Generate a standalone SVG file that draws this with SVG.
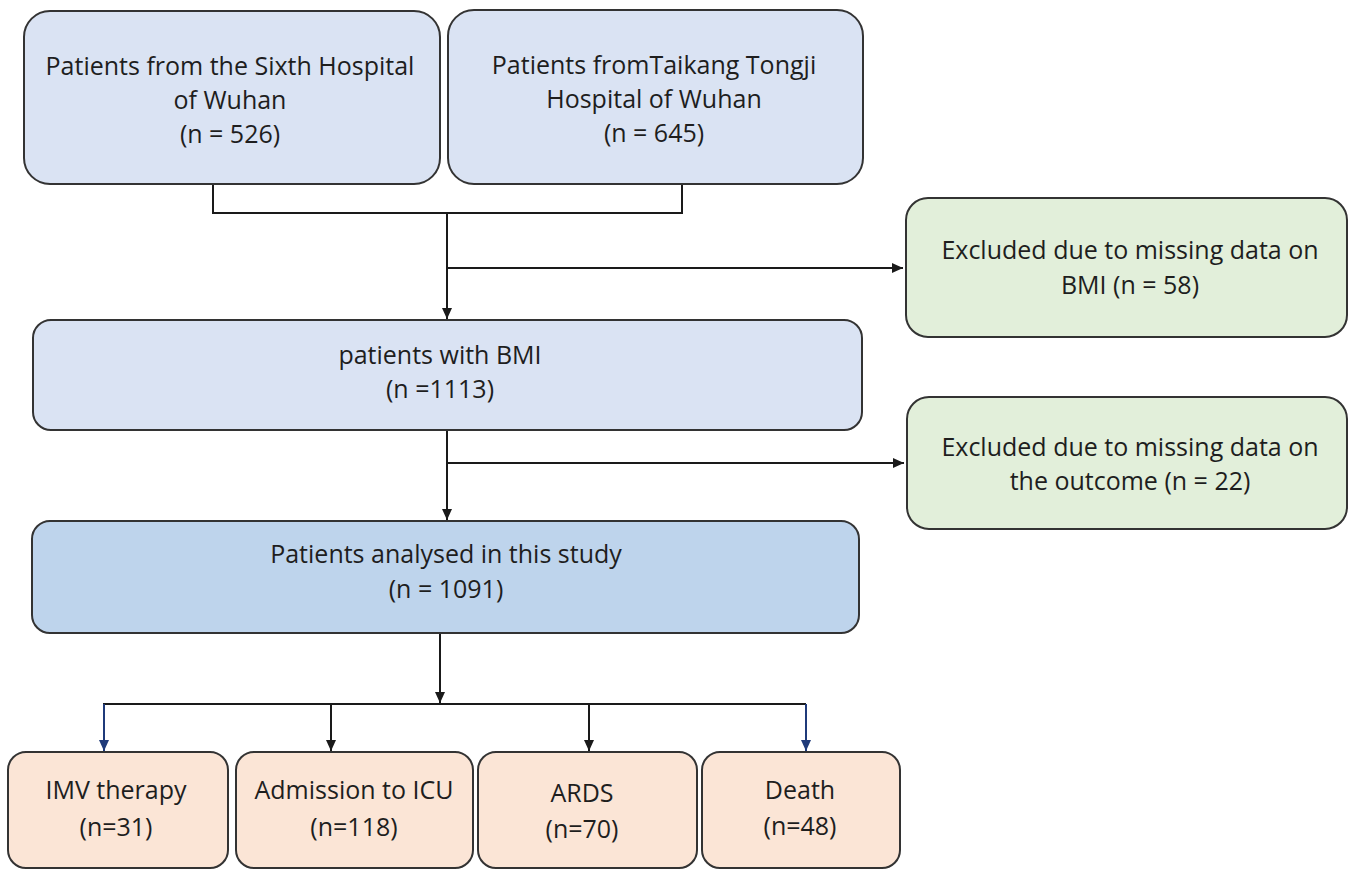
<svg xmlns="http://www.w3.org/2000/svg" width="1349" height="869" viewBox="0 0 1349 869">
<style>
.box{stroke:#333333;stroke-width:2}
.blue{fill:#dae3f3}
.blue2{fill:#bed4ec}
.green{fill:#e2efda}
.peach{fill:#fbe5d6}
.t{font-family:"Open Sans","Liberation Sans",sans-serif;font-size:25px;fill:#1e1e1e;text-anchor:middle}
.c{fill:none;stroke:#1a1a1a;stroke-width:2}
.cb{fill:none;stroke:#1f3a7a;stroke-width:2}
</style>
<defs>
<marker id="ah" markerUnits="userSpaceOnUse" markerWidth="12" markerHeight="12" refX="11" refY="6" orient="auto">
<path d="M0,1 L11,6 L0,11 z" fill="#1a1a1a"/>
</marker>
<marker id="ahb" markerUnits="userSpaceOnUse" markerWidth="12" markerHeight="12" refX="11" refY="6" orient="auto">
<path d="M0,1 L11,6 L0,11 z" fill="#1f3a7a"/>
</marker>
</defs>
<rect width="1349" height="869" fill="#ffffff"/>
<g id="connectors">
<polyline class="c" points="213,184 213,213 682,213 682,184"/>
<line class="c" x1="447" y1="213" x2="447" y2="319" marker-end="url(#ah)"/>
<line class="c" x1="447" y1="268" x2="903" y2="268" marker-end="url(#ah)"/>
<line class="c" x1="447" y1="430" x2="447" y2="520" marker-end="url(#ah)"/>
<line class="c" x1="447" y1="463" x2="904" y2="463" marker-end="url(#ah)"/>
<line class="c" x1="440" y1="633" x2="440" y2="703" marker-end="url(#ah)"/>
<line class="c" x1="103" y1="704" x2="806" y2="704"/>
<line class="cb" x1="104" y1="704" x2="104" y2="751" marker-end="url(#ahb)"/>
<line class="c" x1="331" y1="704" x2="331" y2="751" marker-end="url(#ah)"/>
<line class="c" x1="589" y1="704" x2="589" y2="751" marker-end="url(#ah)"/>
<line class="cb" x1="806" y1="704" x2="806" y2="751" marker-end="url(#ahb)"/>
</g>
<g id="sixth">
<rect class="box blue" x="24" y="11" width="416" height="173" rx="26"/>
<text class="t" x="230" y="75">Patients from the Sixth Hospital</text>
<text class="t" x="230" y="109">of Wuhan</text>
<text class="t" x="230" y="143">(n = 526)</text>
</g>
<g id="taikang">
<rect class="box blue" x="448" y="10" width="415" height="174" rx="26"/>
<text class="t" x="654" y="74">Patients fromTaikang Tongji</text>
<text class="t" x="654" y="108">Hospital of Wuhan</text>
<text class="t" x="654" y="142">(n = 645)</text>
</g>
<g id="excl1">
<rect class="box green" x="906" y="198" width="441" height="139" rx="22"/>
<text class="t" x="1130" y="259">Excluded due to missing data on</text>
<text class="t" x="1130" y="294">BMI (n = 58)</text>
</g>
<g id="bmi">
<rect class="box blue" x="33" y="320" width="829" height="110" rx="18"/>
<text class="t" x="440" y="364">patients with BMI</text>
<text class="t" x="440" y="398">(n =1113)</text>
</g>
<g id="excl2">
<rect class="box green" x="907" y="397" width="440" height="132" rx="22"/>
<text class="t" x="1130" y="456">Excluded due to missing data on</text>
<text class="t" x="1130" y="490">the outcome (n = 22)</text>
</g>
<g id="analysed">
<rect class="box blue2" x="32" y="521" width="827" height="112" rx="18"/>
<text class="t" x="446" y="563">Patients analysed in this study</text>
<text class="t" x="446" y="598">(n = 1091)</text>
</g>
<g id="imv">
<rect class="box peach" x="8" y="752" width="220" height="116" rx="18"/>
<text class="t" x="116" y="799">IMV therapy</text>
<text class="t" x="116" y="836">(n=31)</text>
</g>
<g id="icu">
<rect class="box peach" x="236" y="752" width="237" height="116" rx="18"/>
<text class="t" x="354" y="799">Admission to ICU</text>
<text class="t" x="354" y="836">(n=118)</text>
</g>
<g id="ards">
<rect class="box peach" x="478" y="752" width="219" height="116" rx="18"/>
<text class="t" x="582" y="802">ARDS</text>
<text class="t" x="582" y="838">(n=70)</text>
</g>
<g id="death">
<rect class="box peach" x="702" y="752" width="198" height="116" rx="18"/>
<text class="t" x="800" y="799">Death</text>
<text class="t" x="800" y="835">(n=48)</text>
</g>
</svg>
